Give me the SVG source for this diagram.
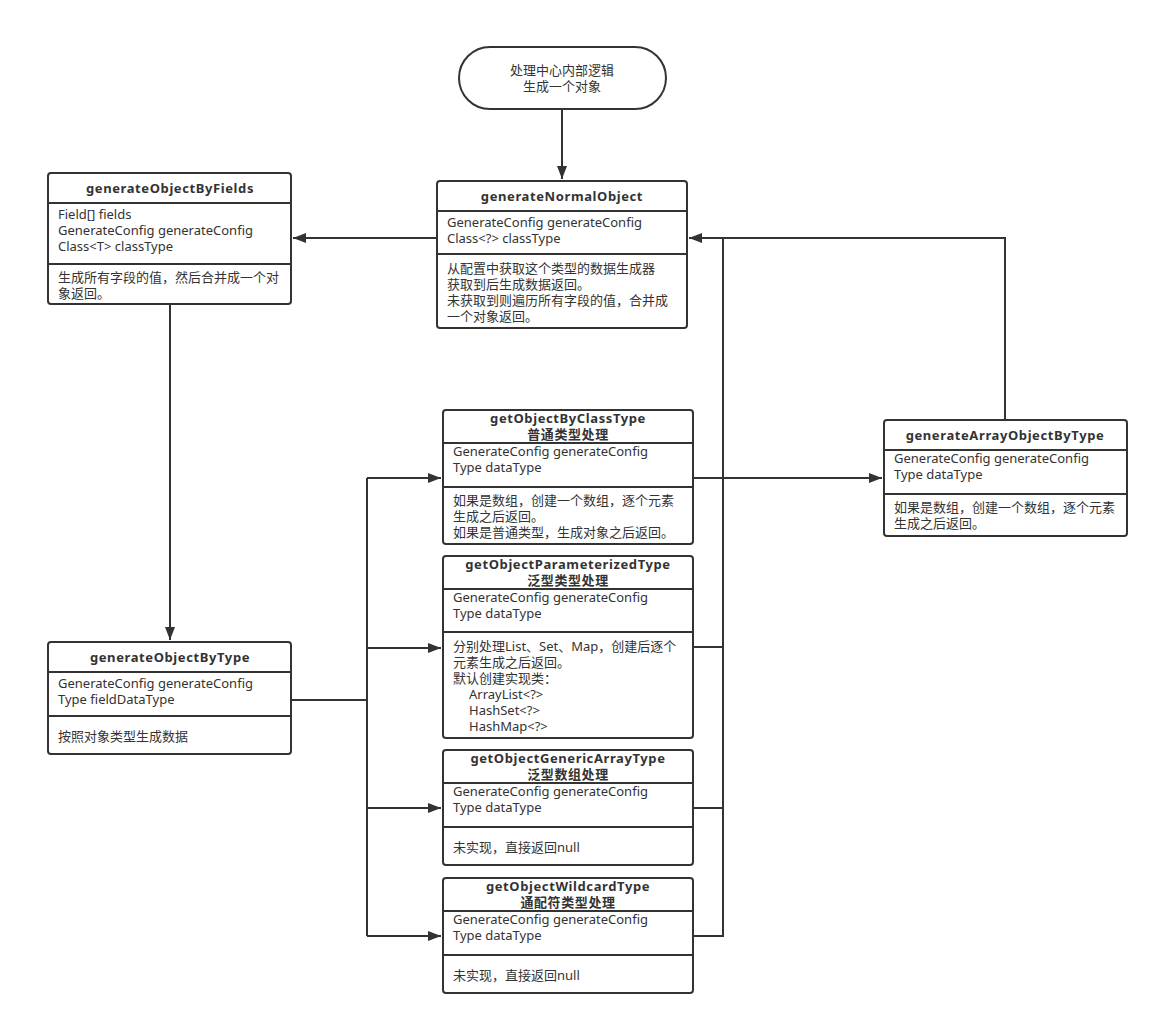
<svg xmlns="http://www.w3.org/2000/svg" width="1159" height="1026" viewBox="0 0 1159 1026">
<style>
.box{fill:#fff;stroke:#333;stroke-width:2}
.sep{stroke:#333;stroke-width:2}
.t{font-family:"Noto Sans","Noto Sans CJK SC",sans-serif;font-size:13px;fill:#333}
.b{font-weight:bold;text-anchor:middle;letter-spacing:0.6px}
.c{text-anchor:middle}
.ln{fill:none;stroke:#333;stroke-width:2}
</style>
<defs>
<marker id="ah" viewBox="0 0 13 10" refX="13" refY="5" markerWidth="13" markerHeight="10" markerUnits="userSpaceOnUse" orient="auto">
<path d="M0,0 L13,5 L0,10 z" fill="#333"/>
</marker>
</defs>
<rect width="1159" height="1026" fill="#fff"/>

<g id="connectors">
<path class="ln" d="M562,109 V179" marker-end="url(#ah)"/>
<path class="ln" d="M437,238 H293" marker-end="url(#ah)"/>
<path class="ln" d="M170,304 V640" marker-end="url(#ah)"/>
<path class="ln" d="M291,700 H367"/>
<path class="ln" d="M367,478 V936"/>
<path class="ln" d="M367,478 H441" marker-end="url(#ah)"/>
<path class="ln" d="M367,648 H441" marker-end="url(#ah)"/>
<path class="ln" d="M367,808 H441" marker-end="url(#ah)"/>
<path class="ln" d="M367,936 H441" marker-end="url(#ah)"/>
<path class="ln" d="M693,478 H882" marker-end="url(#ah)"/>
<path class="ln" d="M693,647 H723"/>
<path class="ln" d="M693,808 H723"/>
<path class="ln" d="M693,936 H723 V238"/>
<path class="ln" d="M1005,420 V238 H689" marker-end="url(#ah)"/>
</g>

<g id="start">
<rect class="box" x="459" y="47" width="207" height="62" rx="31" ry="31"/>
<text class="t c" x="562" y="75">处理中心内部逻辑</text>
<text class="t c" x="562" y="91">生成一个对象</text>
</g>

<g id="generateNormalObject">
<rect class="box" x="437" y="181" width="250" height="147" rx="3"/>
<line class="sep" x1="437" y1="211" x2="687" y2="211"/>
<line class="sep" x1="437" y1="254" x2="687" y2="254"/>
<text class="t b" x="562" y="201">generateNormalObject</text>
<text class="t" x="447" y="227">GenerateConfig generateConfig</text>
<text class="t" x="447" y="243">Class&lt;?&gt; classType</text>
<text class="t" x="447" y="273">从配置中获取这个类型的数据生成器</text>
<text class="t" x="447" y="289">获取到后生成数据返回。</text>
<text class="t" x="447" y="305">未获取到则遍历所有字段的值，合并成</text>
<text class="t" x="447" y="321">一个对象返回。</text>
</g>

<g id="generateObjectByFields">
<rect class="box" x="48" y="173" width="243" height="131" rx="3"/>
<line class="sep" x1="48" y1="203" x2="291" y2="203"/>
<line class="sep" x1="48" y1="264" x2="291" y2="264"/>
<text class="t b" x="170" y="193">generateObjectByFields</text>
<text class="t" x="58" y="219">Field[] fields</text>
<text class="t" x="58" y="235">GenerateConfig generateConfig</text>
<text class="t" x="58" y="251">Class&lt;T&gt; classType</text>
<text class="t" x="58" y="282">生成所有字段的值，然后合并成一个对</text>
<text class="t" x="58" y="298">象返回。</text>
</g>

<g id="generateObjectByType">
<rect class="box" x="48" y="642" width="243" height="112" rx="3"/>
<line class="sep" x1="48" y1="672" x2="291" y2="672"/>
<line class="sep" x1="48" y1="716" x2="291" y2="716"/>
<text class="t b" x="170" y="662">generateObjectByType</text>
<text class="t" x="58" y="688">GenerateConfig generateConfig</text>
<text class="t" x="58" y="704">Type fieldDataType</text>
<text class="t" x="58" y="741">按照对象类型生成数据</text>
</g>

<g id="getObjectByClassType">
<rect class="box" x="443" y="410" width="250" height="134" rx="3"/>
<line class="sep" x1="443" y1="443" x2="693" y2="443"/>
<line class="sep" x1="443" y1="487" x2="693" y2="487"/>
<text class="t b" x="568" y="423">getObjectByClassType</text>
<text class="t b" x="568" y="439">普通类型处理</text>
<text class="t" x="453" y="456">GenerateConfig generateConfig</text>
<text class="t" x="453" y="472">Type dataType</text>
<text class="t" x="453" y="505">如果是数组，创建一个数组，逐个元素</text>
<text class="t" x="453" y="521">生成之后返回。</text>
<text class="t" x="453" y="537">如果是普通类型，生成对象之后返回。</text>
</g>

<g id="getObjectParameterizedType">
<rect class="box" x="443" y="556" width="250" height="182" rx="3"/>
<line class="sep" x1="443" y1="589" x2="693" y2="589"/>
<line class="sep" x1="443" y1="632" x2="693" y2="632"/>
<text class="t b" x="568" y="569">getObjectParameterizedType</text>
<text class="t b" x="568" y="585">泛型类型处理</text>
<text class="t" x="453" y="602">GenerateConfig generateConfig</text>
<text class="t" x="453" y="618">Type dataType</text>
<text class="t" x="453" y="651">分别处理List、Set、Map，创建后逐个</text>
<text class="t" x="453" y="667">元素生成之后返回。</text>
<text class="t" x="453" y="683">默认创建实现类：</text>
<text class="t" x="469" y="699">ArrayList&lt;?&gt;</text>
<text class="t" x="469" y="715">HashSet&lt;?&gt;</text>
<text class="t" x="469" y="731">HashMap&lt;?&gt;</text>
</g>

<g id="getObjectGenericArrayType">
<rect class="box" x="443" y="750" width="250" height="115" rx="3"/>
<line class="sep" x1="443" y1="783" x2="693" y2="783"/>
<line class="sep" x1="443" y1="827" x2="693" y2="827"/>
<text class="t b" x="568" y="763">getObjectGenericArrayType</text>
<text class="t b" x="568" y="779">泛型数组处理</text>
<text class="t" x="453" y="796">GenerateConfig generateConfig</text>
<text class="t" x="453" y="812">Type dataType</text>
<text class="t" x="453" y="852">未实现，直接返回null</text>
</g>

<g id="getObjectWildcardType">
<rect class="box" x="443" y="878" width="250" height="115" rx="3"/>
<line class="sep" x1="443" y1="911" x2="693" y2="911"/>
<line class="sep" x1="443" y1="955" x2="693" y2="955"/>
<text class="t b" x="568" y="891">getObjectWildcardType</text>
<text class="t b" x="568" y="907">通配符类型处理</text>
<text class="t" x="453" y="924">GenerateConfig generateConfig</text>
<text class="t" x="453" y="940">Type dataType</text>
<text class="t" x="453" y="980">未实现，直接返回null</text>
</g>

<g id="generateArrayObjectByType">
<rect class="box" x="884" y="420" width="243" height="116" rx="3"/>
<line class="sep" x1="884" y1="450" x2="1127" y2="450"/>
<line class="sep" x1="884" y1="494" x2="1127" y2="494"/>
<text class="t b" x="1005" y="440">generateArrayObjectByType</text>
<text class="t" x="894" y="463">GenerateConfig generateConfig</text>
<text class="t" x="894" y="479">Type dataType</text>
<text class="t" x="894" y="512">如果是数组，创建一个数组，逐个元素</text>
<text class="t" x="894" y="528">生成之后返回。</text>
</g>
</svg>
